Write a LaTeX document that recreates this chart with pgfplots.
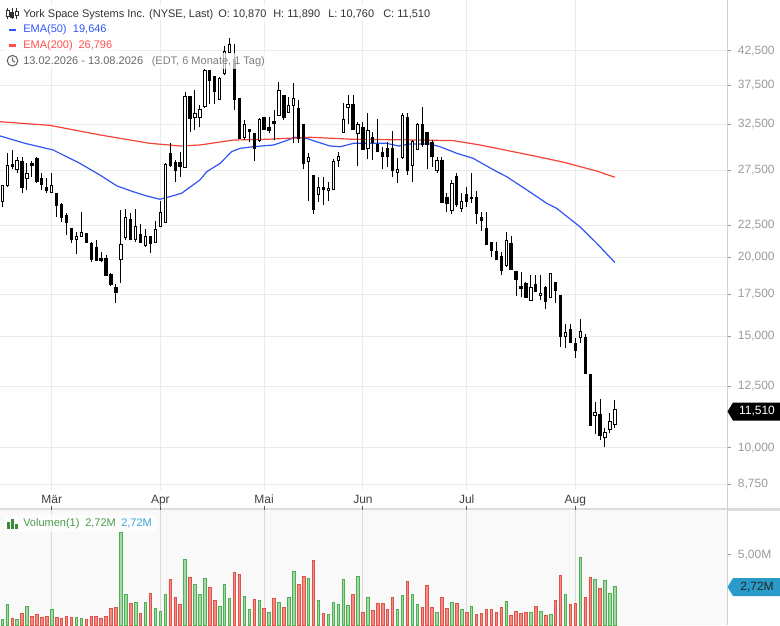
\documentclass[border=0pt]{standalone}
\usepackage{pgfplots}
\pgfplotsset{compat=1.18}
\usepackage{pgfplotstable}
\usepackage{fontspec}
\setmainfont{Liberation Sans}
\definecolor{gridc}{HTML}{EBEBEB}
\definecolor{vgridc}{HTML}{DADADA}
\definecolor{tickc}{HTML}{9A9A9A}
\definecolor{emablue}{HTML}{2F55F5}
\definecolor{emared}{HTML}{F44336}
\definecolor{upfill}{HTML}{A5D6A7}
\definecolor{updraw}{HTML}{4CAF50}
\definecolor{dnfill}{HTML}{F28B82}
\definecolor{dndraw}{HTML}{E0524C}
\definecolor{volbg}{HTML}{F9F9F9}
\definecolor{sepc}{HTML}{DCDCDC}
\definecolor{axc}{HTML}{D0D0D0}
\definecolor{txt}{HTML}{333333}
\definecolor{txtgray}{HTML}{666666}
\definecolor{txtlight}{HTML}{808080}
\definecolor{voltxt}{HTML}{4A9A4A}
\definecolor{volicon}{HTML}{3A8A3A}
\definecolor{volblue}{HTML}{2A9BC8}
\definecolor{lblblue}{HTML}{3AA8D8}
\definecolor{legblue}{HTML}{3355FF}
\definecolor{legred}{HTML}{FF4F4F}

\pgfplotstableread{
i O H L C
0 24.57 26.06 24.07 25.96
1 25.96 29.24 25.90 27.92
2 28.12 29.59 27.58 27.85
3 27.58 28.88 27.19 28.46
4 28.43 28.88 25.28 25.80
5 26.70 28.19 25.58 27.12
6 28.19 28.46 26.85 27.92
7 28.64 28.88 26.22 26.37
8 26.70 27.19 25.58 26.06
9 25.80 26.76 25.33 25.49
10 25.33 27.25 25.28 25.96
11 25.21 25.21 23.21 24.16
12 24.28 24.37 22.79 23.13
13 23.27 23.50 21.71 22.74
14 22.19 22.19 21.11 21.32
15 21.32 21.95 20.26 21.63
16 21.58 23.64 21.58 21.93
17 21.85 21.85 21.11 21.11
18 21.07 21.19 19.70 19.89
19 20.73 21.32 19.75 19.75
20 19.94 20.43 19.70 19.77
21 19.94 20.18 18.70 18.70
22 18.79 18.88 18.05 18.12
23 17.95 18.17 16.97 17.60
24 19.87 23.78 18.25 20.99
25 21.53 23.84 21.32 23.16
26 22.99 23.50 21.32 21.38
27 21.38 23.86 21.19 22.41
28 21.77 22.56 21.11 21.14
29 20.88 22.19 20.80 21.58
30 21.56 21.63 20.32 21.04
31 21.16 22.87 21.07 22.11
32 22.38 24.60 22.33 23.59
33 22.71 28.25 22.66 28.02
34 29.17 30.32 27.85 27.92
35 28.25 28.53 26.31 27.44
36 28.25 29.41 26.85 27.85
37 27.79 36.60 27.79 35.94
38 36.03 36.03 31.64 33.22
39 33.34 36.82 31.83 33.82
40 33.34 34.88 32.15 34.33
41 34.66 39.75 34.50 39.61
42 39.51 39.60 35.00 38.09
43 38.66 38.80 35.00 36.60
44 35.60 38.60 35.50 38.43
45 39.14 43.20 38.90 42.35
46 42.20 44.47 42.10 43.40
47 41.18 43.55 34.24 35.60
48 35.73 35.80 30.80 30.88
49 30.95 33.01 30.69 32.50
50 31.91 32.00 30.50 31.71
51 31.45 31.45 28.46 29.77
52 30.69 33.20 30.50 33.10
53 33.34 33.40 31.85 31.91
54 32.15 33.34 31.45 31.83
55 32.81 34.24 30.69 32.62
56 33.61 37.95 33.50 36.73
57 36.16 36.16 33.01 33.34
58 33.89 35.94 33.85 34.75
59 34.75 37.72 30.32 35.73
60 34.45 35.51 30.32 30.88
61 32.48 32.50 27.58 28.19
62 28.43 29.31 24.60 28.82
63 26.95 27.00 23.41 23.84
64 25.19 26.85 24.51 25.84
65 25.84 26.85 24.22 25.64
66 25.51 26.37 24.60 25.74
67 25.64 28.60 25.58 28.43
68 28.46 29.41 27.85 28.95
69 31.56 35.16 31.50 33.10
70 34.58 36.16 32.54 34.97
71 34.97 36.16 31.83 31.91
72 31.45 32.81 27.92 32.53
73 32.15 32.81 29.59 29.66
74 29.77 33.82 28.60 31.75
75 31.00 31.64 28.53 30.40
76 30.14 33.10 29.38 29.41
77 29.31 29.95 27.58 28.95
78 29.77 30.50 27.85 28.88
79 29.77 31.75 26.85 27.51
80 27.28 28.71 26.22 27.58
81 28.82 33.90 28.60 33.61
82 33.34 33.90 27.00 27.51
83 27.92 30.69 26.37 30.50
84 29.66 32.70 29.59 32.48
85 32.53 34.66 29.95 30.24
86 31.52 31.52 27.58 30.14
87 30.43 30.69 27.80 28.90
88 27.51 28.88 27.19 28.53
89 28.53 28.88 24.37 24.42
90 24.93 25.31 23.61 24.37
91 23.75 26.53 23.43 26.20
92 26.87 27.19 24.00 24.22
93 23.90 25.31 23.61 24.53
94 25.12 25.89 24.07 24.51
95 24.87 27.19 24.37 24.82
96 24.93 25.49 22.58 23.50
97 23.13 23.64 22.05 22.87
98 22.19 23.64 20.93 20.99
99 21.14 21.14 20.02 20.50
100 20.43 21.19 19.82 19.87
101 20.10 20.43 18.76 19.06
102 19.41 21.93 19.34 21.24
103 21.07 21.63 19.10 19.16
104 19.04 19.04 17.36 18.43
105 18.00 18.98 17.31 17.86
106 18.21 18.32 17.28 17.31
107 17.13 18.77 17.10 17.95
108 18.10 18.77 17.64 17.66
109 17.40 18.77 17.13 17.55
110 17.95 18.00 16.56 17.02
111 17.27 18.84 17.25 18.84
112 18.28 18.30 16.97 17.72
113 17.40 17.45 14.45 15.00
114 15.00 15.67 14.37 15.24
115 15.40 15.69 14.69 14.69
116 14.63 14.91 13.88 14.24
117 14.97 15.97 14.63 15.27
118 14.96 15.15 13.11 13.11
119 13.06 13.06 10.86 10.86
120 11.24 11.80 10.51 11.38
121 11.27 11.93 10.28 10.45
122 10.38 10.74 10.01 10.58
123 10.70 11.33 10.56 11.02
124 10.87 11.89 10.76 11.51
}\candles

\pgfplotstableread{
i v
-0.47 31.15
4.6 30.32
10.3 29.59
15.7 28.19
19.8 27.00
23.2 25.96
26.5 25.42
29.2 25.03
31.9 24.73
33.9 24.96
36.3 25.28
40.0 26.53
41.4 27.35
44.1 28.19
46.4 29.41
48.1 29.77
50.8 29.95
54.9 30.14
56.9 30.50
59.3 31.00
61.6 30.88
63.6 30.50
66.3 30.03
68.4 29.95
71.1 30.32
77.8 30.32
80.2 30.03
82.5 30.24
86.6 30.24
88.6 29.95
92.0 29.24
95.3 28.71
100.1 27.35
102.1 26.85
106.2 25.58
110.2 24.37
112.2 23.93
116.9 22.38
120.3 21.07
124.0 19.646
}\emafifty

\pgfplotstableread{
i v
-0.47 32.81
9.7 32.37
19.8 31.26
29.9 30.32
36.0 30.03
40.0 30.14
46.8 30.69
53.5 30.77
62.3 31.00
71.1 30.77
84.6 30.69
91.3 30.62
96.7 30.14
100.1 29.77
106.8 29.05
113.6 28.31
120.3 27.41
124.0 26.796
}\ematwohundred

\pgfplotstableread{
i v
0 0.37
1 1.44
3 0.37
5 1.35
10 1.08
15 0.51
16 0.44
24 6.57
25 2.20
27 1.63
29 1.63
31 1.15
32 0.99
33 2.20
37 4.65
39 2.86
40 2.15
41 3.29
44 1.30
45 2.86
46 1.87
49 2.01
50 1.08
52 1.72
54 0.92
56 1.58
58 1.94
59 3.79
62 3.29
64 1.72
66 0.73
67 1.63
68 1.44
69 3.22
70 1.37
72 3.43
74 1.94
80 1.08
81 2.08
83 2.15
84 1.44
88 0.87
91 1.63
93 1.08
95 1.30
102 1.65
107 0.87
109 0.94
111 0.73
114 2.15
117 4.79
120 3.22
122 3.15
123 2.22
124 2.72
}\volup

\pgfplotstableread{
i v
2 0.44
4 0.80
6 0.63
7 0.73
8 0.51
9 0.63
11 0.51
12 0.44
13 0.63
14 0.51
17 0.37
18 0.63
19 0.63
20 0.44
21 0.63
22 1.15
23 1.23
26 1.56
28 0.80
30 2.27
34 3.22
35 1.94
36 1.49
38 3.36
42 2.65
43 1.75
47 3.72
48 3.62
51 1.80
53 1.15
55 1.87
57 1.23
60 2.91
61 3.43
63 4.57
65 0.80
71 2.15
73 0.92
75 1.01
76 1.51
77 1.51
78 1.08
79 1.94
82 3.08
85 1.23
86 2.79
87 1.23
89 1.94
90 1.15
92 1.51
94 0.87
96 0.73
97 0.80
98 1.08
99 1.08
100 0.87
101 1.23
103 0.66
104 0.94
105 0.80
106 0.87
108 1.30
110 0.66
112 1.72
113 3.50
115 1.44
116 1.51
118 1.94
119 3.36
121 2.58
}\voldn

\begin{document}
\begin{tikzpicture}
\useasboundingbox (0,0) rectangle (585pt,-468.75pt);
\begin{scope}[x=0.75pt,y=-0.75pt]
  \fill[sepc] (0,507.5) rectangle (780,510.5);
\end{scope}

\begin{axis}[
  at={(0pt,0pt)}, anchor=north west,
  width=545.25pt, height=367.5pt, scale only axis,
  xmin=-0.4656, xmax=146.70,
  ymode=log, ymin=8.5716, ymax=51.12,
  axis line style={draw=none},
  tick align=outside,
  major tick length=3pt,
  xtick={10,32,53,73,94,116},
  xticklabels={Mär,Apr,Mai,Jun,Jul,Aug},
  xtick style={draw=none},
  xticklabel style={font=\fontsize{9}{10}\selectfont, text=black!75, inner sep=0pt, anchor=base, yshift=-7.5pt},
  ytick={8.75,10,12.5,15,17.5,20,22.5,27.5,32.5,37.5,42.5},
  yticklabels={{8,750},{10,000},{12,500},{15,000},{17,500},{20,000},{22,500},{27,500},{32,500},{37,500},{42,500}},
  ytick pos=right, yticklabel pos=right,
  ytick style={draw=tickc, line width=0.6pt},
  yticklabel style={font=\fontsize{9}{10}\selectfont, text=tickc, anchor=west, inner sep=0pt, xshift=5pt},
  grid=major,
  major grid style={draw=gridc, line width=0.75pt},
]
\addplot[emablue, line width=0.9pt, forget plot] table[x=i, y=v] {\emafifty};
\addplot[emared, line width=0.9pt, forget plot] table[x=i, y=v] {\ematwohundred};
\pgfplotstablegetrowsof{\candles}
\pgfmathtruncatemacro{\lastrow}{\pgfplotsretval-1}
\pgfplotsforeachungrouped \r in {0,...,\lastrow}{%
  \pgfplotstablegetelem{\r}{i}\of\candles \let\ci=\pgfplotsretval
  \pgfplotstablegetelem{\r}{O}\of\candles \let\co=\pgfplotsretval
  \pgfplotstablegetelem{\r}{H}\of\candles \let\ch=\pgfplotsretval
  \pgfplotstablegetelem{\r}{L}\of\candles \let\cl=\pgfplotsretval
  \pgfplotstablegetelem{\r}{C}\of\candles \let\cc=\pgfplotsretval
  \pgfmathsetmacro{\xl}{\ci-0.235}%
  \pgfmathsetmacro{\xr}{\ci+0.235}%
  \pgfmathsetmacro{\isup}{\cc>=\co ? 1 : 0}%
  \ifdim\isup pt>0.5pt \def\bfill{white}\else\def\bfill{black}\fi
  \edef\temp{\noexpand\addplot[black, line width=0.75pt, forget plot] coordinates {(\ci,\cl) (\ci,\ch)};
    \noexpand\addplot[draw=black, fill=\bfill, line width=0.75pt, forget plot] coordinates {(\xl,\co) (\xr,\co) (\xr,\cc) (\xl,\cc)} -- cycle;}%
  \temp
}
\end{axis}

\begin{axis}[
  at={(0pt,-382.5pt)}, anchor=north west,
  width=545.25pt, height=86.25pt, scale only axis,
  xmin=-0.4656, xmax=146.70, ymin=0, ymax=8.19,
  axis background/.style={fill=volbg},
  axis line style={draw=none},
  tick align=outside,
  major tick length=3pt,
  xtick={10,32,53,73,94,116}, xticklabels={},
  xtick pos=top,
  xtick style={draw=black!65, line width=0.75pt},
  xmajorgrids,
  major grid style={draw=vgridc, line width=0.75pt},
  ytick={5}, yticklabels={5{,}00M},
  ytick pos=right, yticklabel pos=right,
  ytick style={draw=tickc, line width=0.6pt},
  yticklabel style={font=\fontsize{9}{10}\selectfont, text=tickc, anchor=west, inner sep=0pt, xshift=5pt},
]
\addplot[ybar, bar width=1.9pt, bar shift=0pt, draw=updraw, fill=upfill, line width=0.6pt] table[x=i, y=v] {\volup};
\addplot[ybar, bar width=1.9pt, bar shift=0pt, draw=dndraw, fill=dnfill, line width=0.6pt] table[x=i, y=v] {\voldn};
\end{axis}

\begin{scope}[x=0.75pt,y=-0.75pt]
  % right axis line
  \draw[axc, line width=0.75pt] (727,0) -- (727,625);
  % header backgrounds
  \fill[white, opacity=0.7] (3,4) rectangle (428,21);
  \fill[white, opacity=0.7] (3,21) rectangle (108,37);
  \fill[white, opacity=0.7] (3,37) rectangle (118,53);
  \fill[white, opacity=0.7] (3,53) rectangle (266,69);
  % candle icon
  \begin{scope}[line width=0.6pt, txt]
    \draw (7.5,8) -- (7.5,19); \filldraw[fill=white] (6,10.5) rectangle (9,16);
    \draw (12,8) -- (12,19); \filldraw[fill=txt] (10.5,12) rectangle (13.5,17);
    \draw (16.5,8) -- (16.5,19); \filldraw[fill=white] (15,11) rectangle (18,15.5);
  \end{scope}
  \tikzset{hdr/.style={anchor=base west, inner sep=0pt, font=\fontsize{8.25}{9}\selectfont}}
  \node[hdr, text=txt] at (23,17.3) {York Space Systems Inc. (NYSE, Last)};
  \node[hdr, text=txt] at (218,17.3) {O: 10,870};
  \node[hdr, text=txt] at (273,17.3) {H: 11,890};
  \node[hdr, text=txt] at (328,17.3) {L: 10,760};
  \node[hdr, text=txt] at (383,17.3) {C: 11,510};
  \fill[legblue] (9,28.5) rectangle (16,30.8);
  \node[hdr, text=legblue] at (23,32.3) {EMA(50)};
  \node[hdr, text=legblue] at (72.7,32.3) {19,646};
  \fill[legred] (9,44.2) rectangle (16,46.5);
  \node[hdr, text=legred] at (23,48.3) {EMA(200)};
  \node[hdr, text=legred] at (78.3,48.3) {26,796};
  \draw[txtgray, line width=0.8pt] (12.5,60.7) circle (5.3);
  \draw[txtgray, line width=0.8pt] (12.5,57.3) -- (12.5,60.7) -- (15,62.2);
  \node[hdr, text=txtgray] at (23,64.5) {13.02.2026 - 13.08.2026};
  \node[hdr, text=txtlight] at (151.5,64.5) {(EDT, 6 Monate, 1 Tag)};
  % volume legend
  \fill[white, opacity=0.8] (5,515) rectangle (157,532);
  \fill[volicon] (7,522) rectangle (9.5,528.5);
  \fill[volicon] (11,518.5) rectangle (13.5,528.5);
  \fill[volicon] (15,524) rectangle (17.5,528.5);
  \node[hdr, text=voltxt] at (23,526.7) {Volumen(1)};
  \node[hdr, text=voltxt] at (85,526.7) {2,72M};
  \node[hdr, text=lblblue] at (121,526.7) {2,72M};
  % last price label
  \fill[black] (727.5,411.5) -- (733,402.5) -- (780,402.5) -- (780,420.5) -- (733,420.5) -- cycle;
  \node[anchor=center, inner sep=0pt, text=white, font=\fontsize{9}{10}\selectfont] at (757,411.5) {11,510};
  % volume label
  \fill[volblue] (727.5,587) -- (733,578) -- (780,578) -- (780,596) -- (733,596) -- cycle;
  \node[anchor=center, inner sep=0pt, text=black!85, font=\fontsize{9}{10}\selectfont] at (757,587) {2,72M};
\end{scope}
\end{tikzpicture}
\end{document}
